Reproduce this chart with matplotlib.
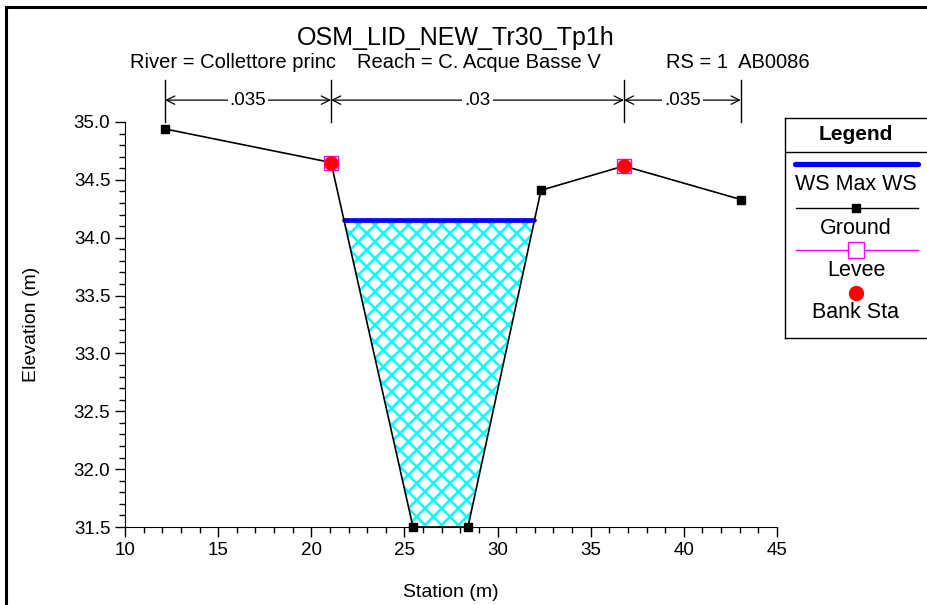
import numpy as np
import matplotlib.pyplot as plt
from matplotlib.ticker import MultipleLocator

plt.rcParams['font.family'] = ['Liberation Sans', 'DejaVu Sans']
plt.rcParams['hatch.linewidth'] = 1.8

# cross section ground profile
station = [12.15, 21.06, 25.46, 28.41, 32.33, 36.78, 43.06]
elev = [34.94, 34.65, 31.50, 31.50, 34.41, 34.62, 34.33]
bank_sta = [21.06, 36.78]
bank_elev = [34.65, 34.62]
ws_max = 34.15
n_vals = ['.035', '.03', '.035']

title = 'OSM_LID_NEW_Tr30_Tp1h'
river = 'River = Collettore princ'
reach = 'Reach = C. Acque Basse V'
rs = 'RS = 1  AB0086'

W, H = 928, 605
fig = plt.figure(figsize=(W / 100, H / 100), dpi=100)


def px_rect(x0, y0, x1, y1):
    return [x0 / W, 1 - y1 / H, (x1 - x0) / W, (y1 - y0) / H]


ax = fig.add_axes(px_rect(125, 122, 777, 527))

sta = np.array(station)
el = np.array(elev)

# water surface edges where it meets the channel banks
ws_l = np.interp(ws_max, el[1:3][::-1], sta[1:3][::-1])
ws_r = np.interp(ws_max, el[3:5], sta[3:5])

ax.fill_between(sta, el, ws_max, where=el < ws_max, interpolate=True,
                facecolor='none', edgecolor='cyan', hatch='xx', linewidth=0, zorder=1)
ax.plot([ws_l, ws_r], [ws_max, ws_max], color='blue', lw=3.4,
        solid_capstyle='round', zorder=3)
ax.plot(sta, el, color='black', lw=1.2, marker='s', ms=6, zorder=4, clip_on=False)
ax.plot(bank_sta, bank_elev, ls='none', marker='s', ms=10.5, mfc='none',
        mec='magenta', mew=1, zorder=5)
ax.plot(bank_sta, bank_elev, ls='none', marker='o', ms=9.5, color='red', zorder=6)

ax.set_xlim(10, 45)
ax.set_ylim(31.5, 35.0)
ax.xaxis.set_major_locator(MultipleLocator(5))
ax.xaxis.set_minor_locator(MultipleLocator(1))
ax.yaxis.set_major_locator(MultipleLocator(0.5))
ax.yaxis.set_minor_locator(MultipleLocator(0.1))
ax.yaxis.set_major_formatter(plt.FormatStrFormatter('%.1f'))
for s in ['top', 'right']:
    ax.spines[s].set_visible(False)
ax.tick_params(which='major', length=7, width=1, labelsize=13.5, direction='out')
ax.tick_params(which='minor', length=4, width=1, direction='out')
ax.set_xlabel('Station (m)', fontsize=14, labelpad=18)
ax.set_ylabel('Elevation (m)', fontsize=14, labelpad=24)

# roughness brackets above the plot
marks = [station[0], bank_sta[0], bank_sta[1], station[-1]]
trans = ax.get_xaxis_transform()
for m in marks:
    ax.plot([m, m], [1.0, 1.104], color='black', lw=1, transform=trans, clip_on=False)
for i, lab in enumerate(n_vals):
    a, b = marks[i], marks[i + 1]
    ax.annotate('', xy=(a, 1.054), xytext=(b, 1.054), xycoords=trans,
                textcoords=trans,
                arrowprops=dict(arrowstyle='<->', color='black', lw=0.9,
                                shrinkA=0, shrinkB=0, mutation_scale=15))
    ax.text((a + b) / 2, 1.054, lab, transform=trans, ha='center', va='center',
            fontsize=13.5, bbox=dict(facecolor='white', edgecolor='none', pad=1.5))

fig.text(456 / W, 1 - 38 / H, title, ha='center', va='center', fontsize=18)
fig.text(130 / W, 1 - 62 / H, river, ha='left', va='center', fontsize=14.5)
fig.text(357 / W, 1 - 62 / H, reach, ha='left', va='center', fontsize=14.5)
fig.text(666 / W, 1 - 62 / H, rs, ha='left', va='center', fontsize=14.5)

# outer frame
fig.add_artist(plt.Line2D([6 / W, 6 / W], [0, 1 - 7 / H], color='black', lw=2.2))
fig.add_artist(plt.Line2D([6 / W, 1], [1 - 7 / H, 1 - 7 / H], color='black', lw=2.2))

# legend panel
lg = fig.add_axes(px_rect(785, 118, 945, 338))
lg.set_xlim(785, 945)
lg.set_ylim(338, 118)
lg.set_xticks([])
lg.set_yticks([])
for s in lg.spines.values():
    s.set_linewidth(1)
cx = 856
lg.text(cx, 135, 'Legend', ha='center', va='center', fontsize=15, fontweight='bold')
lg.plot([785, 945], [152, 152], color='black', lw=1)
lg.plot([795, 918], [164, 164], color='blue', lw=3.8, solid_capstyle='round')
lg.text(cx, 184, 'WS Max WS', ha='center', va='center', fontsize=15.5)
lg.plot([796, 918], [208, 208], color='black', lw=1)
lg.plot([cx], [208], marker='s', ms=6, color='black')
lg.text(cx, 228, 'Ground', ha='center', va='center', fontsize=15.5)
lg.plot([796, 918], [250, 250], color='magenta', lw=1)
lg.plot([cx], [250], marker='s', ms=11, mfc='white', mec='magenta', mew=1)
lg.text(cx, 270, 'Levee', ha='center', va='center', fontsize=15.5)
lg.plot([cx], [293], marker='o', ms=10, color='red')
lg.text(cx, 313, 'Bank Sta', ha='center', va='center', fontsize=15.5)

fig.savefig('out.png', dpi=100)
